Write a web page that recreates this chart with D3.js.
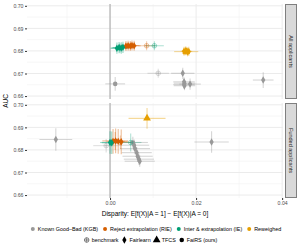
<!DOCTYPE html>
<html>
<head>
<meta charset="utf-8">
<script src="https://cdn.jsdelivr.net/npm/d3@7"></script>
<style>
    body { margin: 0; background: #fff; }
    svg { display: block; font-family: "Liberation Sans", Arial, sans-serif; }
</style>
</head>
<body>
<div id="chart"></div>
<script>
var methods = ['Known Good\u2013Bad (KGB)', 'Reject extrapolation (RIE)', 'Inter & extrapolation (IE)', 'Reweighed'];
var methodKeys = ['KGB', 'RIE', 'IE', 'RW'];
var methodColors = ['#999999', '#D55E00', '#009E73', '#E69F00'];
var types = ['benchmark', 'Fairlearn', 'TFCS', 'FaiRS (ours)'];
var panels = ['All applicants', 'Funded applicants'];
var xTicks = [0, 0.02, 0.04];
var yTicks = [0.66, 0.67, 0.68, 0.69, 0.70];

// [method, type, disparity, auc, disparity err, auc err]
var allApplicants = [
    ['KGB', 'FaiRS (ours)', 0.0012, 0.6654, 0.0023, 0.0030],
    ['KGB', 'benchmark', 0.0112, 0.6701, 0.0025, 0.0020],
    ['KGB', 'Fairlearn', 0.0169, 0.6701, 0.0027, 0.0025],
    ['KGB', 'Fairlearn', 0.0172, 0.6663, 0.0025, 0.0020],
    ['KGB', 'Fairlearn', 0.0173, 0.6657, 0.0025, 0.0020],
    ['KGB', 'Fairlearn', 0.0172, 0.6651, 0.0025, 0.0020],
    ['KGB', 'Fairlearn', 0.0173, 0.6646, 0.0025, 0.0020],
    ['KGB', 'Fairlearn', 0.0186, 0.6653, 0.0025, 0.0025],
    ['KGB', 'Fairlearn', 0.0356, 0.6671, 0.0024, 0.0035],
    ['RIE', 'benchmark', 0.0085, 0.6823, 0.0020, 0.0020],
    ['RIE', 'Fairlearn', 0.0037, 0.6822, 0.0015, 0.0022],
    ['RIE', 'Fairlearn', 0.0042, 0.6823, 0.0015, 0.0022],
    ['RIE', 'Fairlearn', 0.0047, 0.6822, 0.0015, 0.0022],
    ['RIE', 'Fairlearn', 0.0051, 0.6824, 0.0015, 0.0022],
    ['RIE', 'Fairlearn', 0.0056, 0.6823, 0.0015, 0.0022],
    ['IE', 'benchmark', 0.0103, 0.6823, 0.0022, 0.0020],
    ['IE', 'Fairlearn', 0.0016, 0.6812, 0.0015, 0.0025],
    ['IE', 'Fairlearn', 0.0021, 0.6815, 0.0015, 0.0025],
    ['IE', 'Fairlearn', 0.0026, 0.6813, 0.0015, 0.0025],
    ['IE', 'Fairlearn', 0.0030, 0.6816, 0.0015, 0.0025],
    ['IE', 'FaiRS (ours)', 0.0023, 0.6813, 0.0020, 0.0020],
    ['RW', 'Fairlearn', 0.0172, 0.6799, 0.0008, 0.0020],
    ['RW', 'Fairlearn', 0.0176, 0.6801, 0.0008, 0.0020],
    ['RW', 'Fairlearn', 0.0180, 0.6796, 0.0008, 0.0020],
    ['RW', 'Fairlearn', 0.0183, 0.6798, 0.0008, 0.0020],
    ['RW', 'TFCS', 0.0177, 0.6797, 0.0028, 0.0015]
];

var fundedApplicants = [
    ['KGB', 'Fairlearn', -0.0126, 0.6846, 0.0038, 0.0050],
    ['KGB', 'Fairlearn', 0.0236, 0.6835, 0.0040, 0.0048],
    ['KGB', 'benchmark', -0.0009, 0.6819, 0.0030, 0.0030],
    ['KGB', 'FaiRS (ours)', 0.0053, 0.6833, 0.0035, 0.0025],
    ['KGB', 'Fairlearn', 0.0056, 0.6821, 0.0035, 0.0025],
    ['KGB', 'Fairlearn', 0.0058, 0.6806, 0.0035, 0.0025],
    ['KGB', 'Fairlearn', 0.0062, 0.6788, 0.0035, 0.0025],
    ['KGB', 'Fairlearn', 0.0064, 0.6772, 0.0035, 0.0025],
    ['KGB', 'Fairlearn', 0.0067, 0.6759, 0.0035, 0.0025],
    ['KGB', 'Fairlearn', 0.0069, 0.6750, 0.0035, 0.0025],
    ['RIE', 'benchmark', 0.0024, 0.6834, 0.0025, 0.0030],
    ['RIE', 'Fairlearn', 0.0007, 0.6838, 0.0015, 0.0055],
    ['RIE', 'Fairlearn', 0.0013, 0.6840, 0.0015, 0.0055],
    ['RIE', 'Fairlearn', 0.0019, 0.6838, 0.0015, 0.0055],
    ['RIE', 'Fairlearn', 0.0026, 0.6836, 0.0015, 0.0055],
    ['RIE', 'FaiRS (ours)', 0.0012, 0.6840, 0.0030, 0.0040],
    ['IE', 'benchmark', 0.0048, 0.6833, 0.0025, 0.0040],
    ['IE', 'Fairlearn', 0.0000, 0.6833, 0.0023, 0.0050],
    ['IE', 'Fairlearn', 0.0004, 0.6832, 0.0023, 0.0050],
    ['RW', 'TFCS', 0.0086, 0.6940, 0.0043, 0.0046]
];

(function () {
    'use strict';

    var width = 300;
    var height = 250;
    var left = 27;
    var right = 283;
    var panelTops = [4, 103];
    var panelH = 95;

    var svg = d3.select('#chart').append('svg')
        .attr('width', width)
        .attr('height', height);

    var x = d3.scaleLinear().domain([-0.0193, 0.0402]).range([left, right]);
    var y = d3.scaleLinear().domain([0.6587, 0.7008]).range([panelH, 0]);
    var color = d3.scaleOrdinal().domain(methodKeys).range(methodColors);

    var symbolFor = {
        'Fairlearn': d3.symbol().type(d3.symbolDiamond).size(16),
        'TFCS': d3.symbol().type(d3.symbolTriangle).size(26),
        'FaiRS (ours)': d3.symbol().type(d3.symbolCircle).size(16)
    };

    function drawPoint (g, type, fill, sw) {
        if (type === 'benchmark') {
            g.append('circle').attr('r', 2.3)
                .style('fill', 'none').style('stroke', fill).style('stroke-width', sw);
            g.append('path').attr('d', 'M-2.3,0H2.3M0,-2.3V2.3')
                .style('stroke', fill).style('stroke-width', sw);
        } else {
            g.append('path').attr('d', symbolFor[type]()).style('fill', fill);
        }
    }

    [allApplicants, fundedApplicants].forEach(function (rows, i) {
        var g = svg.append('g').attr('transform', 'translate(0,' + panelTops[i] + ')');

        // grid
        var xMinor = [-0.01, 0.01, 0.03];
        var yMinor = [0.665, 0.675, 0.685, 0.695];
        g.selectAll('.xminor').data(xMinor).enter().append('line')
            .attr('x1', x).attr('x2', x).attr('y1', 0).attr('y2', panelH)
            .style('stroke', '#f2f2f2').style('stroke-width', 0.6);
        g.selectAll('.yminor').data(yMinor).enter().append('line')
            .attr('x1', left).attr('x2', right).attr('y1', y).attr('y2', y)
            .style('stroke', '#f2f2f2').style('stroke-width', 0.6);
        g.selectAll('.xmajor').data(xTicks).enter().append('line')
            .attr('x1', x).attr('x2', x).attr('y1', 0).attr('y2', panelH)
            .style('stroke', '#ebebeb').style('stroke-width', 1);
        g.selectAll('.ymajor').data(yTicks).enter().append('line')
            .attr('x1', left).attr('x2', right).attr('y1', y).attr('y2', y)
            .style('stroke', '#ebebeb').style('stroke-width', 1);

        // zero line
        g.append('line')
            .attr('x1', x(0)).attr('x2', x(0)).attr('y1', 0).attr('y2', panelH)
            .style('stroke', '#a6a6a6').style('stroke-width', 1);

        // y axis
        var yAxis = g.append('g').attr('transform', 'translate(' + left + ',0)')
            .call(d3.axisLeft(y).tickValues(yTicks).tickSize(2).tickPadding(1.5).tickFormat(d3.format('.2f')));
        yAxis.select('.domain').remove();
        yAxis.selectAll('line').style('stroke', '#333');
        yAxis.selectAll('text').style('font-size', '5.2px').style('fill', '#4d4d4d');

        // error bars
        var bars = g.append('g');
        rows.forEach(function (r) {
            var c = color(r[0]);
            var op = r[1] === 'benchmark' ? 0.3 : 0.4;
            bars.append('line')
                .attr('x1', x(r[2] - r[4])).attr('x2', x(r[2] + r[4]))
                .attr('y1', y(r[3])).attr('y2', y(r[3]))
                .style('stroke', c).style('stroke-opacity', op).style('stroke-width', 1.1);
            bars.append('line')
                .attr('x1', x(r[2])).attr('x2', x(r[2]))
                .attr('y1', y(r[3] - r[5])).attr('y2', y(r[3] + r[5]))
                .style('stroke', c).style('stroke-opacity', op).style('stroke-width', 1.1);
        });

        // points
        var pts = g.append('g');
        rows.forEach(function (r) {
            var p = pts.append('g')
                .attr('transform', 'translate(' + x(r[2]) + ',' + y(r[3]) + ')')
                .style('opacity', r[1] === 'benchmark' ? 0.6 : 1);
            drawPoint(p, r[1], color(r[0]), 0.6);
        });

        // strip
        g.append('rect')
            .attr('x', 285.5).attr('y', 0.5).attr('width', 11).attr('height', panelH - 1)
            .style('fill', '#d9d9d9').style('stroke', '#7f7f7f').style('stroke-width', 1);
        g.append('text')
            .attr('transform', 'translate(291,' + (panelH / 2) + ') rotate(90)')
            .attr('text-anchor', 'middle').attr('dy', '0.35em')
            .style('font-size', '5.5px').style('fill', '#1a1a1a')
            .text(panels[i]);
    });

    // x axis
    var xAxis = svg.append('g').attr('transform', 'translate(0,' + (panelTops[1] + panelH) + ')')
        .call(d3.axisBottom(x).tickValues(xTicks).tickSize(2).tickPadding(1.5).tickFormat(d3.format('.2f')));
    xAxis.select('.domain').remove();
    xAxis.selectAll('line').style('stroke', '#333');
    xAxis.selectAll('text').style('font-size', '5.2px').style('fill', '#4d4d4d');

    svg.append('text')
        .attr('x', (left + right) / 2).attr('y', 215.5)
        .attr('text-anchor', 'middle')
        .style('font-size', '6.5px').style('fill', '#000')
        .text('Disparity: E[f(X)|A = 1] \u2212 E[f(X)|A = 0]');

    svg.append('text')
        .attr('transform', 'translate(8,101) rotate(-90)')
        .attr('text-anchor', 'middle')
        .style('font-size', '6.5px').style('fill', '#000')
        .text('AUC');

    // legends
    function legendRow (items, cy, cx, gap, draw) {
        var row = svg.append('g');
        var pos = 0;
        items.forEach(function (label, k) {
            var item = row.append('g').attr('transform', 'translate(' + pos + ',0)');
            draw(item.append('g'), k);
            var t = item.append('text').attr('x', 5).attr('dy', '0.35em')
                .style('font-size', '5.4px').style('fill', '#000').text(label);
            pos += 5 + t.node().getComputedTextLength() + gap;
        });
        var w = pos - gap;
        row.attr('transform', 'translate(' + (cx - w / 2 + 2) + ',' + cy + ')');
    }

    legendRow(methods, 229, 155, 7, function (g, k) {
        g.append('circle').attr('r', 2).style('fill', methodColors[k]);
    });
    legendRow(types, 240, 150, 6, function (g, k) {
        drawPoint(g, types[k], '#000', 0.45);
    });
})();
</script>
</body>
</html>
